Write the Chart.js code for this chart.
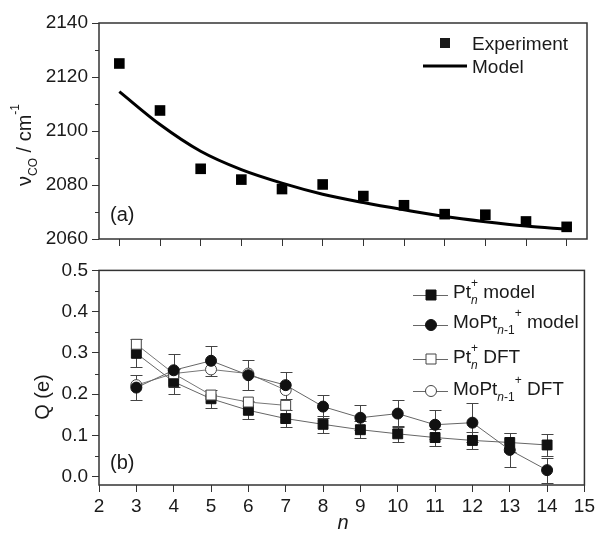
<!DOCTYPE html>
<html>
<head>
<meta charset="utf-8">
<script src="https://cdn.jsdelivr.net/npm/chart.js@4.4.1/dist/chart.umd.min.js"></script>
<style>
  body { margin: 0; background: #fff; }
  #wrap { position: relative; width: 598px; height: 545px; }
  .panel { position: absolute; left: 0; width: 598px; }
  #top { top: 0; height: 255px; }
  #bottom { top: 255px; height: 290px; }
</style>
</head>
<body>
<div id="wrap">
  <div class="panel" id="top"><canvas id="freqChart"></canvas></div>
  <div class="panel" id="bottom"><canvas id="chargeChart"></canvas></div>
</div>
<script>
// (a) CO stretch frequency
const nFreq = [3, 4, 5, 6, 7, 8, 9, 10, 11, 12, 13, 14];
const expFreq = [2125, 2107.6, 2086, 2082, 2078.5, 2080.2, 2075.9, 2072.5, 2069.2, 2069, 2066.5, 2064.5];
const modelFreq = [2114.6, 2102.4, 2092.5, 2085.7, 2080.7, 2076.6, 2073.5, 2070.8, 2068.3, 2066.4, 2064.8, 2063.6];

// (b) charge
const nCharge = [3, 4, 5, 6, 7, 8, 9, 10, 11, 12, 13, 14];
const ptModel = [0.299, 0.230, 0.189, 0.161, 0.141, 0.127, 0.114, 0.104, 0.095, 0.088, 0.083, 0.077];
const ptModelErr = [0.034, 0.03, 0.022, 0.022, 0.021, 0.02, 0.02, 0.02, 0.02, 0.02, 0.022, 0.026];
const moptModel = [0.216, 0.258, 0.281, 0.246, 0.222, 0.170, 0.143, 0.153, 0.126, 0.131, 0.065, 0.016];
const moptModelErr = [0.03, 0.04, 0.036, 0.036, 0.033, 0.027, 0.03, 0.033, 0.035, 0.047, 0.042, 0.03];
const nDft = [3, 4, 5, 6, 7];
const ptDft = [0.321, 0.25, 0.198, 0.181, 0.173];
const moptDft = [0.222, 0.25, 0.26, 0.25, 0.21];

const FONT = "'Liberation Sans', Arial, sans-serif";
const INK = '#1a1a1a';
const FRAME = '#333';

const pts = (xs, ys) => xs.map((x, i) => ({ x, y: ys[i] }));

// draws text made of pieces (normal / sub / sup), returns total width
function richText(ctx, x, y, parts, size, dryRun) {
  let cx = x;
  parts.forEach(p => {
    const s = p.sub || p.sup ? Math.round(size * 0.62) : size;
    ctx.font = `${p.it ? 'italic ' : ''}${s}px ${FONT}`;
    const dy = p.sub ? size * 0.32 : p.sup ? -size * 0.6 : 0;
    if (!dryRun) ctx.fillText(p.t, cx, y + dy);
    if (!p.hold) cx += ctx.measureText(p.t).width;
  });
  return cx - x;
}

function rotatedTitle(ctx, baseX, centerY, parts, size) {
  ctx.save();
  ctx.translate(baseX, centerY);
  ctx.rotate(-Math.PI / 2);
  ctx.textBaseline = 'alphabetic';
  ctx.textAlign = 'left';
  const w = richText(ctx, 0, 0, parts, size, true);
  richText(ctx, -w / 2, 0, parts, size);
  ctx.restore();
}

function marker(ctx, kind, x, y, filled) {
  ctx.save();
  ctx.fillStyle = filled ? '#111' : '#fff';
  ctx.strokeStyle = filled ? '#111' : '#444';
  ctx.lineWidth = 1;
  ctx.beginPath();
  if (kind === 'rect') ctx.rect(x - 5, y - 5, 10, 10);
  else ctx.arc(x, y, 5.5, 0, Math.PI * 2);
  ctx.fill();
  ctx.stroke();
  ctx.restore();
}

const frame = {
  id: 'frame',
  afterDraw(chart) {
    const { ctx, chartArea: a } = chart;
    ctx.save();
    ctx.strokeStyle = FRAME;
    ctx.lineWidth = 1.5;
    ctx.strokeRect(a.left, a.top, a.right - a.left, a.bottom - a.top);
    ctx.restore();
  }
};

function minorTicks(step) {
  return {
    id: 'minorTicks',
    afterDraw(chart) {
      const { ctx, scales: { y } } = chart;
      ctx.save();
      ctx.strokeStyle = FRAME;
      ctx.lineWidth = 1;
      for (let v = y.min; v <= y.max + 1e-9; v += step / 2) {
        const k = Math.round(v / (step / 2));
        if (k % 2 === 0) continue;
        const py = Math.round(y.getPixelForValue(k * step / 2)) + 0.5;
        ctx.beginPath();
        ctx.moveTo(y.right - 4, py);
        ctx.lineTo(y.right, py);
        ctx.stroke();
      }
      ctx.restore();
    }
  };
}

const errorBars = {
  id: 'errorBars',
  beforeDatasetsDraw(chart) {
    const { ctx, scales: { x, y } } = chart;
    ctx.save();
    ctx.strokeStyle = '#444';
    ctx.lineWidth = 1;
    chart.data.datasets.forEach(ds => {
      if (!ds.errors) return;
      ds.data.forEach((p, j) => {
        const px = Math.round(x.getPixelForValue(p.x)) + 0.5;
        const hi = Math.round(y.getPixelForValue(p.y + ds.errors[j])) + 0.5;
        const lo = Math.round(y.getPixelForValue(p.y - ds.errors[j])) + 0.5;
        ctx.beginPath();
        ctx.moveTo(px, hi); ctx.lineTo(px, lo);
        ctx.moveTo(px - 6, hi); ctx.lineTo(px + 6, hi);
        ctx.moveTo(px - 6, lo); ctx.lineTo(px + 6, lo);
        ctx.stroke();
      });
    });
    ctx.restore();
  }
};

function axisBase(extra) {
  return Object.assign({
    type: 'linear',
    border: { display: false },
    grid: { drawOnChartArea: false, drawTicks: true, tickLength: 7, tickColor: FRAME, tickWidth: 1 },
  }, extra);
}

const freqText = {
  id: 'freqText',
  afterDraw(chart) {
    const { ctx } = chart;
    ctx.save();
    ctx.fillStyle = INK;
    ctx.textBaseline = 'alphabetic';
    // legend
    ctx.fillRect(440, 38, 10, 10);
    ctx.strokeStyle = '#000';
    ctx.lineWidth = 3;
    ctx.beginPath(); ctx.moveTo(423, 66); ctx.lineTo(467, 66); ctx.stroke();
    ctx.font = `19px ${FONT}`;
    ctx.fillText('Experiment', 472, 50);
    ctx.fillText('Model', 472, 73);
    ctx.font = `20px ${FONT}`;
    ctx.fillText('(a)', 110, 221);
    rotatedTitle(ctx, 31, 145, [
      { t: 'ν' }, { t: 'CO', sub: true }, { t: ' / cm' }, { t: '-1', sup: true }
    ], 20);
    ctx.restore();
  }
};

const chargeText = {
  id: 'chargeText',
  afterDraw(chart) {
    const { ctx } = chart;
    const off = 255;
    ctx.save();
    ctx.fillStyle = INK;
    ctx.textBaseline = 'alphabetic';
    const rows = [
      { y: 295, base: 298, kind: 'rect', filled: true,
        parts: [{ t: 'Pt' }, { t: 'n', sub: true, it: true, hold: true }, { t: '+', sup: true }, { t: ' model' }] },
      { y: 325, base: 328, kind: 'circle', filled: true,
        parts: [{ t: 'MoPt' }, { t: 'n', sub: true, it: true }, { t: '-1', sub: true }, { t: '+', sup: true }, { t: ' model' }] },
      { y: 359, base: 363, kind: 'rect', filled: false,
        parts: [{ t: 'Pt' }, { t: 'n', sub: true, it: true, hold: true }, { t: '+', sup: true }, { t: ' DFT' }] },
      { y: 391, base: 395, kind: 'circle', filled: false,
        parts: [{ t: 'MoPt' }, { t: 'n', sub: true, it: true }, { t: '-1', sub: true }, { t: '+', sup: true }, { t: ' DFT' }] }
    ];
    rows.forEach(r => {
      const ly = r.y - off;
      ctx.strokeStyle = '#666';
      ctx.lineWidth = 1;
      ctx.beginPath(); ctx.moveTo(413, ly + 0.5); ctx.lineTo(448, ly + 0.5); ctx.stroke();
      marker(ctx, r.kind, 431, ly, r.filled);
      ctx.fillStyle = INK;
      richText(ctx, 453, r.base - off, r.parts, 19);
    });
    ctx.font = `20px ${FONT}`;
    ctx.fillText('(b)', 110, 469 - off);
    rotatedTitle(ctx, 49, 397 - off, [{ t: 'Q (e)' }], 20);
    ctx.font = `italic 20px ${FONT}`;
    ctx.textAlign = 'center';
    ctx.fillText('n', 343, 529 - off);
    ctx.restore();
  }
};

const common = {
  responsive: true,
  maintainAspectRatio: false,
  animation: false,
  events: [],
  plugins: { legend: { display: false }, tooltip: { enabled: false } }
};

new Chart(document.getElementById('freqChart'), {
  type: 'scatter',
  data: {
    datasets: [{
      label: 'Experiment',
      data: pts(nFreq, expFreq),
      pointStyle: 'rect',
      pointRadius: 7.5,
      pointBackgroundColor: '#000',
      pointBorderWidth: 0,
      order: 0
    }, {
      label: 'Model',
      data: pts(nFreq, modelFreq),
      showLine: true,
      cubicInterpolationMode: 'monotone',
      borderColor: '#000',
      borderWidth: 3,
      pointRadius: 0,
      order: 1
    }]
  },
  options: Object.assign({}, common, {
    layout: { padding: { top: 23, right: 11, left: 0, bottom: 0 } },
    scales: {
      x: axisBase({
        min: 2.5, max: 14.5,
        // tick marks at each n, labels kept invisible
        afterBuildTicks: s => { s.ticks = nFreq.map(v => ({ value: v })); },
        ticks: { autoSkip: false, color: 'rgba(0,0,0,0)', font: { size: 4 } },
        afterFit: s => { s.height = 16; }
      }),
      y: axisBase({
        min: 2060, max: 2140,
        ticks: { stepSize: 20, color: INK, padding: 4, font: { family: FONT, size: 19 }, callback: v => String(v) },
        afterFit: s => { s.width = 99; }
      })
    }
  }),
  plugins: [frame, minorTicks(20), freqText]
});

new Chart(document.getElementById('chargeChart'), {
  type: 'scatter',
  data: {
    datasets: [{
      label: 'Pt_n+ model',
      data: pts(nCharge, ptModel),
      errors: ptModelErr,
      showLine: true,
      borderColor: '#666', borderWidth: 1,
      pointStyle: 'rect', pointRadius: 7,
      pointBackgroundColor: '#111', pointBorderColor: '#111', pointBorderWidth: 1,
      order: 2
    }, {
      label: 'MoPt_n-1+ model',
      data: pts(nCharge, moptModel),
      errors: moptModelErr,
      showLine: true,
      borderColor: '#666', borderWidth: 1,
      pointStyle: 'circle', pointRadius: 5.5,
      pointBackgroundColor: '#111', pointBorderColor: '#111', pointBorderWidth: 1,
      order: 0
    }, {
      label: 'Pt_n+ DFT',
      data: pts(nDft, ptDft),
      showLine: true,
      borderColor: '#777', borderWidth: 1,
      pointStyle: 'rect', pointRadius: 7,
      pointBackgroundColor: '#fff', pointBorderColor: '#444', pointBorderWidth: 1,
      order: 1
    }, {
      label: 'MoPt_n-1+ DFT',
      data: pts(nDft, moptDft),
      showLine: true,
      borderColor: '#777', borderWidth: 1,
      pointStyle: 'circle', pointRadius: 5.5,
      pointBackgroundColor: '#fff', pointBorderColor: '#444', pointBorderWidth: 1,
      order: 3
    }]
  },
  options: Object.assign({}, common, {
    layout: { padding: { top: 15, right: 11, left: 0, bottom: 0 } },
    scales: {
      x: axisBase({
        min: 2, max: 15,
        ticks: { stepSize: 1, autoSkip: false, color: INK, padding: 3, maxRotation: 0, font: { family: FONT, size: 19 } },
        afterFit: s => { s.height = 60; }
      }),
      y: axisBase({
        min: -0.02, max: 0.5,
        ticks: { stepSize: 0.1, includeBounds: false, color: INK, padding: 4,
                 font: { family: FONT, size: 19 }, callback: v => v.toFixed(1) },
        afterFit: s => { s.width = 99; }
      })
    }
  }),
  plugins: [errorBars, frame, minorTicks(0.1), chargeText]
});
</script>
</body>
</html>
